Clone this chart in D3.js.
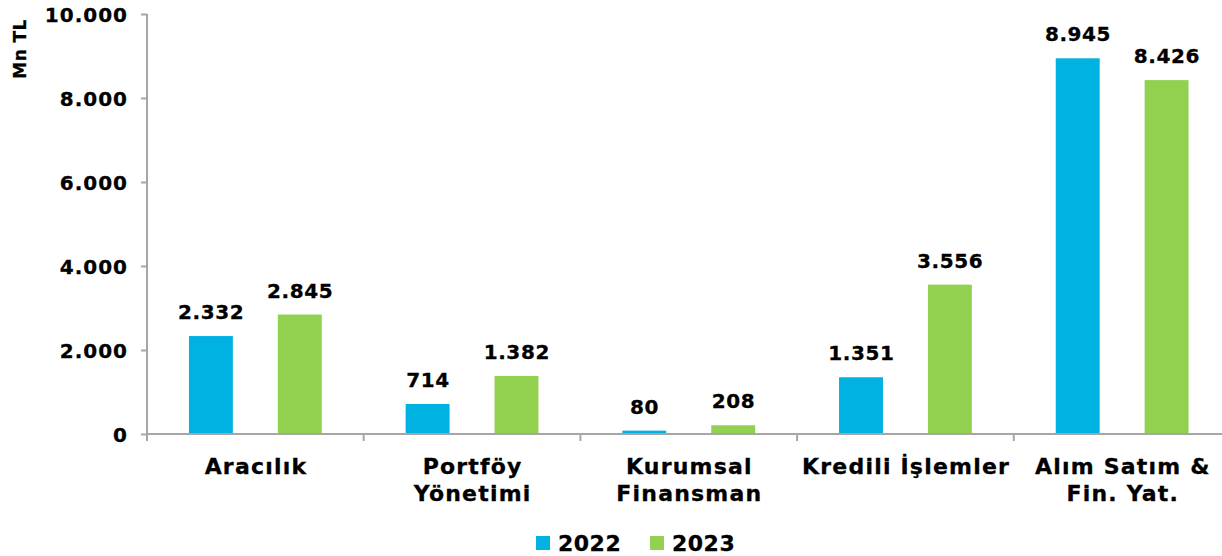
<!DOCTYPE html>
<html>
<head>
    <meta charset="utf-8">
    <title>Mn TL</title>
    <script src="https://d3js.org/d3.v7.min.js"></script>
    <style>
        body { margin: 0; background: #fff; }
        text { font-family: "DejaVu Sans", Verdana, sans-serif; font-weight: bold; fill: #000; stroke: #000; stroke-width: 0.3px; }
    </style>
</head>
<body>
    <svg width="1222" height="556"></svg>

    <script>
        // data
        const categories = [["Aracılık"], ["Portföy", "Yönetimi"], ["Kurumsal", "Finansman"], ["Kredili İşlemler"], ["Alım Satım &", "Fin. Yat."]];
        const years = ["2022", "2023"];
        const values2022 = [2332, 714, 80, 1351, 8945];
        const values2023 = [2845, 1382, 208, 3556, 8426];
        const yTicks = [0, 2000, 4000, 6000, 8000, 10000];
        const colors = ["#00B2E2", "#92D050"];

        const svg = d3.select("svg");
        const plotLeft = 147, plotRight = 1230.5, plotTop = 14, plotBottom = 434;

        const fmt = d3.formatLocale({ decimal: ",", thousands: ".", grouping: [3], currency: ["", ""] }).format(",d");

        const x0 = d3.scaleBand().domain(d3.range(categories.length)).range([plotLeft, plotRight]);
        const x1 = d3.scaleBand().domain(years).range([0, x0.bandwidth()]).paddingInner(0.506).paddingOuter(0.472);
        const y = d3.scaleLinear().domain([0, 10000]).range([plotBottom, plotTop]);

        // y axis
        const yAxis = svg.append("g")
            .attr("transform", `translate(${plotLeft},0)`)
            .call(d3.axisLeft(y).tickValues(yTicks).tickFormat(fmt).tickSizeOuter(0).tickSize(6).tickPadding(13));
        yAxis.select(".domain").attr("stroke", "#a6a6a6").attr("stroke-width", 2).attr("d", `M0,${plotTop}V${plotBottom + 7}`);
        yAxis.selectAll(".tick line").attr("stroke", "#a6a6a6").attr("stroke-width", 2);
        yAxis.selectAll(".tick text").attr("font-size", 20).attr("font-family", null)
            .attr("letter-spacing", 1).attr("dy", "0.36em");

        svg.append("text")
            .attr("transform", `translate(26,${(20 + 78) / 2}) rotate(-90)`)
            .attr("text-anchor", "middle")
            .attr("font-size", 17)
            .attr("letter-spacing", 0.4)
            .text("Mn TL");

        // bars
        const series = years.map((yr, i) => ({ year: yr, color: colors[i], values: i === 0 ? values2022 : values2023 }));
        const groups = svg.append("g").selectAll("g")
            .data(series)
            .join("g")
            .attr("fill", d => d.color);

        groups.selectAll("rect")
            .data(s => s.values.map((v, i) => ({ v, i, year: s.year })))
            .join("rect")
            .attr("x", d => x0(d.i) + x1(d.year))
            .attr("width", x1.bandwidth())
            .attr("y", d => y(d.v))
            .attr("height", d => plotBottom - y(d.v));

        groups.selectAll("text.val")
            .data(s => s.values.map((v, i) => ({ v, i, year: s.year })))
            .join("text")
            .attr("class", "val")
            .attr("x", d => x0(d.i) + x1(d.year) + x1.bandwidth() / 2 + 0.3)
            .attr("y", d => y(d.v) - 17)
            .attr("text-anchor", "middle")
            .attr("font-size", 20)
            .attr("letter-spacing", 0.6)
            .text(d => fmt(d.v));

        // x axis
        const xAxis = svg.append("g");
        xAxis.append("line")
            .attr("x1", plotLeft).attr("x2", 1222)
            .attr("y1", plotBottom).attr("y2", plotBottom)
            .attr("stroke", "#a6a6a6").attr("stroke-width", 2);
        xAxis.selectAll("line.tk")
            .data(d3.range(1, categories.length))
            .join("line")
            .attr("class", "tk")
            .attr("x1", d => x0(d)).attr("x2", d => x0(d))
            .attr("y1", plotBottom).attr("y2", plotBottom + 7)
            .attr("stroke", "#a6a6a6").attr("stroke-width", 2);

        xAxis.selectAll("text")
            .data(categories)
            .join("text")
            .attr("x", (d, i) => x0(i) + x0.bandwidth() / 2 + 0.6)
            .attr("y", 474)
            .attr("text-anchor", "middle")
            .attr("font-size", 22)
            .attr("letter-spacing", 1.2)
            .selectAll("tspan")
            .data(d => d)
            .join("tspan")
            .attr("x", function () { return this.parentNode.getAttribute("x"); })
            .attr("dy", (d, i) => i === 0 ? 0 : 27)
            .text(d => d);

        // legend
        const legendX = [536, 650];
        const legend = svg.append("g").selectAll("g")
            .data(series)
            .join("g")
            .attr("transform", (d, i) => `translate(${legendX[i]},536)`);
        legend.append("rect").attr("width", 14).attr("height", 14).attr("fill", d => d.color);
        legend.append("text").attr("x", 22).attr("y", 15).attr("font-size", 22)
            .attr("letter-spacing", 0.5).text(d => d.year);
    </script>
</body>
</html>
